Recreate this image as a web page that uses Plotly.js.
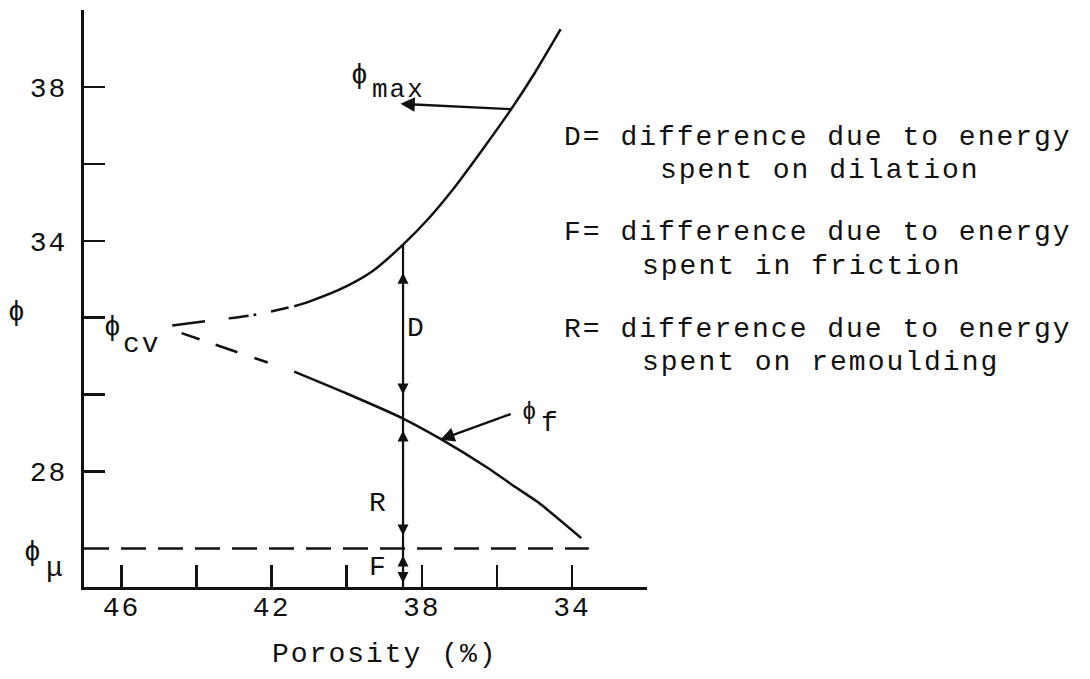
<!DOCTYPE html>
<html>
<head>
<meta charset="utf-8">
<script src="https://cdn.plot.ly/plotly-3.0.1.min.js"></script>
<style>
  html, body { margin: 0; padding: 0; background: #fff; }
  #chart { width: 1090px; height: 679px; }
  /* typewriter-like spacing */
  .annotation-text, .xtick text, .ytick text { letter-spacing: 2px; }
</style>
</head>
<body>
<div id="chart"></div>
<script>
// Porosity (%) on x, friction angle phi (deg) on y
const xTickVals = [46, 44, 42, 40, 38, 36, 34, 32];
const xTickText = ['46', '', '42', '', '38', '', '34', ''];
const yTickVals = [28, 30, 32, 34, 36, 38, 40];
const yTickText = ['28', '', '', '34', '', '38', ''];

// phi_max: extrapolated (dash-dot) branch from phi_cv, then measured branch
const phiMaxExtrapPorosity = [44.65, 43.6, 42.5, 41.4];
const phiMaxExtrapPhi      = [31.8, 31.93, 32.07, 32.3];
const phiMaxPorosity = [41.4, 41.0, 40.0, 39.3, 38.5, 37.8, 37.2, 36.4, 35.6, 35.0, 34.3];
const phiMaxPhi      = [32.3, 32.42, 32.82, 33.22, 33.9, 34.6, 35.3, 36.35, 37.45, 38.35, 39.5];

// phi_f: extrapolated (dashed) branch from phi_cv, then measured branch
const phiFExtrapPorosity = [44.4, 41.4];
const phiFExtrapPhi      = [31.6, 30.6];
const phiFPorosity = [41.4, 40.0, 38.5, 37.5, 36.25, 35.6, 34.9, 33.75];
const phiFPhi      = [30.6, 30.03, 29.38, 28.85, 28.1, 27.66, 27.2, 26.27];

// phi_mu: mineral friction angle
const phiMu = 26;
const phiMuPorosity = [47, 33.55];

// porosity at which the D / R / F components are shown
const splitPorosity = 38.5;
const yBottom = 25;

const FONT = 'Liberation Mono, DejaVu Sans Mono, monospace';
const INK = '#111';

const phiMaxAtSplit = phiMaxPhi[phiMaxPorosity.indexOf(splitPorosity)];
const phiFAtSplit = phiFPhi[phiFPorosity.indexOf(splitPorosity)];

const traces = [
  { x: phiMaxExtrapPorosity, y: phiMaxExtrapPhi, mode: 'lines', line: { color: INK, width: 2.5, shape: 'spline', smoothing: 1, dash: '33px,24px,20px,5px,3px,15px,18px,6px' } },
  { x: phiMaxPorosity, y: phiMaxPhi, mode: 'lines', line: { color: INK, width: 2.5, shape: 'spline', smoothing: 0.8 } },
  { x: phiFExtrapPorosity, y: phiFExtrapPhi, mode: 'lines', line: { color: INK, width: 2.5, dash: '19px,17px,23px,18px,14px,40px' } },
  { x: phiFPorosity, y: phiFPhi, mode: 'lines', line: { color: INK, width: 2.5, shape: 'spline', smoothing: 0.6 } },
  { x: phiMuPorosity, y: [phiMu, phiMu], mode: 'lines', line: { color: INK, width: 2.5, dash: '25px,12px' } },
  { x: [splitPorosity, splitPorosity], y: [phiMaxAtSplit, yBottom], mode: 'lines', line: { color: INK, width: 2.2 } }
];

// plot area in pixels
const L = 84, R = 443, T = 10, B = 92, W = 1090, H = 679;
const pw = W - L - R, ph = H - T - B;
function px(x) { return (x - L) / pw; }
function py(y) { return (H - B - y) / ph; }

function label(text, x, y, size, anchor) {
  return {
    xref: 'paper', yref: 'paper', x: px(x), y: py(y),
    text: text, showarrow: false,
    xanchor: anchor || 'center', yanchor: 'middle',
    font: { family: FONT, size: size || 28, color: INK }
  };
}

// arrowhead pointing from a mid point toward an end, held back by standoff
function head(yEnd, yFrom, standoff) {
  return {
    xref: 'x', yref: 'y', axref: 'x', ayref: 'y',
    x: splitPorosity, y: yEnd, ax: splitPorosity, ay: yFrom,
    text: '', showarrow: true, arrowhead: 2, arrowsize: 1.1, arrowwidth: 2,
    arrowcolor: INK, standoff: standoff
  };
}

const midD = (phiMaxAtSplit + phiFAtSplit) / 2;
const midR = (phiFAtSplit + phiMu) / 2;
const midF = (phiMu + yBottom) / 2;

const annotations = [
  // axis titles
  label('ϕ', 17, 312, 28),
  label('Porosity (%)', 385, 655, 28),
  // curve names
  label('ϕ', 113, 327, 28), label('cv', 142, 344, 28),
  label('ϕ', 33, 552, 28), label('μ', 55, 568, 28),
  label('ϕ', 360, 75, 28), label('max', 398, 90, 26),
  label('ϕ', 530, 412, 24), label('f', 550, 423, 28),
  // components
  label('D', 417, 328, 28), label('R', 378, 503, 28), label('F', 378, 567, 28),
  // key
  label('D= difference due to energy', 562, 137, 28, 'left'),
  label('spent on dilation', 658, 170, 28, 'left'),
  label('F= difference due to energy', 562, 233, 28, 'left'),
  label('spent in friction', 640, 266, 28, 'left'),
  label('R= difference due to energy', 562, 329, 28, 'left'),
  label('spent on remoulding', 640, 362, 28, 'left'),
  // pointers to the curves
  { xref: 'x', yref: 'y', axref: 'x', ayref: 'y', x: 38.57, y: 37.56, ax: 35.59, ay: 37.42,
    text: '', showarrow: true, arrowhead: 2, arrowsize: 1.2, arrowwidth: 2.4, arrowcolor: INK },
  { xref: 'x', yref: 'y', axref: 'x', ayref: 'y', x: 37.51, y: 28.83, ax: 35.59, ay: 29.51,
    text: '', showarrow: true, arrowhead: 2, arrowsize: 1.2, arrowwidth: 2.4, arrowcolor: INK },
  // D, R, F double-headed markers
  head(phiMaxAtSplit, midD, 28), head(phiFAtSplit, midD, 24),
  head(phiFAtSplit, midR, 12), head(phiMu, midR, 13),
  head(phiMu, midF, 7), head(yBottom, midF, 4)
];

const layout = {
  width: W, height: H,
  margin: { l: L, r: R, t: T, b: B, pad: 0 },
  paper_bgcolor: '#fff', plot_bgcolor: '#fff',
  showlegend: false,
  font: { family: FONT, size: 28, color: INK },
  xaxis: {
    range: [47, 32], showgrid: false, zeroline: false,
    showline: true, linecolor: INK, linewidth: 3,
    ticks: 'inside', ticklen: 22, tickwidth: 2.5, tickcolor: INK,
    tickvals: xTickVals, ticktext: xTickText,
    tickfont: { family: FONT, size: 28, color: INK },
    ticklabelstandoff: -8
  },
  yaxis: {
    range: [25, 40], showgrid: false, zeroline: false,
    showline: true, linecolor: INK, linewidth: 3,
    ticks: 'inside', ticklen: 21, tickwidth: 2.5, tickcolor: INK,
    tickvals: yTickVals, ticktext: yTickText,
    tickfont: { family: FONT, size: 28, color: INK },
    ticklabelstandoff: 8
  },
  annotations: annotations
};

Plotly.newPlot('chart', traces, layout, { staticPlot: true, displayModeBar: false });
</script>
</body>
</html>
